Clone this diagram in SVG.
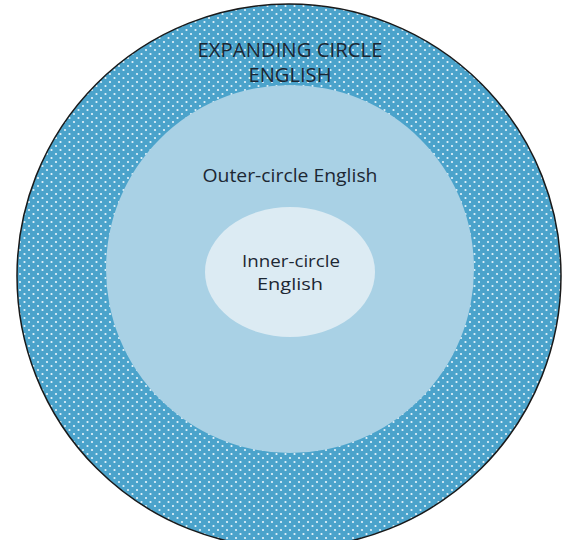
<svg xmlns="http://www.w3.org/2000/svg" width="572" height="540" viewBox="0 0 572 540">
  <defs>
    <pattern id="dots" width="9" height="8" patternUnits="userSpaceOnUse">
      <rect width="9" height="8" fill="#4ba3cb"/>
      <circle cx="2" cy="2" r="1.1" fill="#e6f4fb"/>
      <circle cx="6.5" cy="6" r="1.1" fill="#e6f4fb"/>
    </pattern>
  </defs>
  <style>
    text { font-family: "Open Sans", "Liberation Sans", sans-serif; fill: #1c2733; text-anchor: middle; }
    .caps { font-size: 20px; }
    .lbl { font-size: 19px; }
    .in { font-size: 17px; }
  </style>
  <rect width="572" height="540" fill="#ffffff"/>
  <g id="expanding">
    <ellipse cx="289" cy="276" rx="272" ry="272" fill="url(#dots)" stroke="#1a1a1a" stroke-width="1.5"/>
    <text class="caps" x="290" y="57" textLength="185" lengthAdjust="spacingAndGlyphs">EXPANDING CIRCLE</text>
    <text class="caps" x="290" y="82" textLength="83" lengthAdjust="spacingAndGlyphs">ENGLISH</text>
  </g>
  <g id="outer">
    <circle cx="290" cy="269" r="184" fill="#a9d1e5"/>
    <text class="lbl" x="290" y="182" textLength="175" lengthAdjust="spacingAndGlyphs">Outer-circle English</text>
  </g>
  <g id="inner">
    <ellipse cx="290" cy="272" rx="85" ry="65" fill="#dcebf3"/>
    <text class="in" x="291" y="267" textLength="98" lengthAdjust="spacingAndGlyphs">Inner-circle</text>
    <text class="in" x="290" y="290" textLength="66" lengthAdjust="spacingAndGlyphs">English</text>
  </g>
  <g id="connectors"/>
</svg>
